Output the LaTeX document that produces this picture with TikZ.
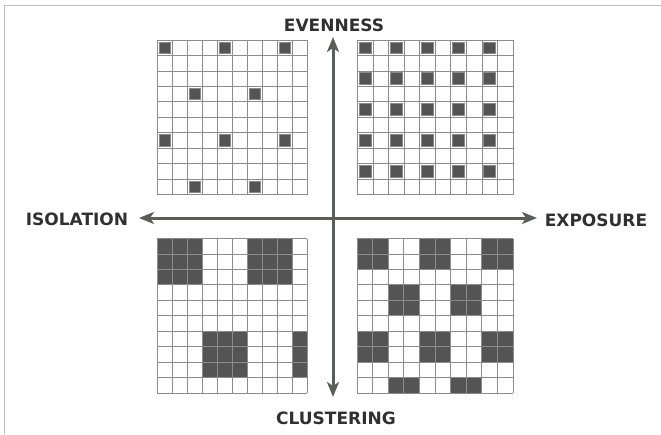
\documentclass[tikz,border=0pt]{standalone}
\usepackage{fontspec}
\setmainfont{DejaVu Sans}
\usetikzlibrary{arrows.meta}
\definecolor{axisgray}{HTML}{5A5E5A}
\definecolor{cellgray}{HTML}{8C8C8C}
\definecolor{darkfill}{HTML}{545454}
\definecolor{rimgray}{HTML}{8A8A8A}
\definecolor{labelgray}{HTML}{303030}
\definecolor{framegray}{HTML}{BBBBBB}
\tikzset{
  gridline/.style={draw=cellgray, line width=0.8pt},
  dotcell/.style={fill=darkfill, draw=rimgray, line width=1pt},
  blockcell/.style={fill=darkfill},
  axisline/.style={draw=axisgray, line width=3pt, {Stealth[length=15pt,width=12pt,inset=4pt]}-{Stealth[length=15pt,width=12pt,inset=4pt]}},
  axislabel/.style={text=labelgray, font=\bfseries\fontsize{17}{17}\selectfont, inner sep=0pt},
  framestyle/.style={draw=framegray, line width=0.8pt}
}
% grid: x0 y0 cw ch
\newcommand\mygrid[4]{%
  \foreach \i in {0,...,10}{%
    \draw[gridline] ({#1+\i*#3},{#2}) -- ({#1+\i*#3},{#2+10*#4});
    \draw[gridline] ({#1},{#2+\i*#4}) -- ({#1+10*#3},{#2+\i*#4});
  }%
}
% inset dot at row/col
\newcommand\mydot[6]{%
  \draw[dotcell] ({#1+#6*#3+2},{#2+#5*#4+2}) rectangle ({#1+(#6+1)*#3-2},{#2+(#5+1)*#4-2});
}
% block: x0 y0 cw ch r0 c0 r1 c1
\newcommand\myblock[8]{%
  \fill[blockcell] ({#1+#6*#3},{#2+#5*#4}) rectangle ({#1+(#8+1)*#3},{#2+(#7+1)*#4});
}
\begin{document}
\begin{tikzpicture}[x=1pt,y=-1pt]
\useasboundingbox (0,0) rectangle (661,434);
% frame
\draw[framestyle] (4.5,434) -- (4.5,5.5) -- (661,5.5);
% top-left grid
\foreach \r/\c in {0/0,0/4,0/8,3/2,3/6,6/0,6/4,6/8,9/2,9/6}{\mydot{157.5}{40}{15}{15.45}{\r}{\c}}
\mygrid{157.5}{40}{15}{15.45}
% top-right grid
\foreach \r in {0,2,4,6,8}{\foreach \c in {0,2,4,6,8}{\mydot{357.5}{40}{15.55}{15.45}{\r}{\c}}}
\mygrid{357.5}{40}{15.55}{15.45}
% bottom-left grid
\foreach \ra/\ca/\rb/\cb in {0/0/2/2,0/6/2/8,6/3/8/5,6/9/8/9}{\myblock{157}{238.5}{15}{15.45}{\ra}{\ca}{\rb}{\cb}}
\mygrid{157}{238.5}{15}{15.45}
% bottom-right grid
\foreach \ra/\ca/\rb/\cb in {0/0/1/1,0/4/1/5,0/8/1/9,3/2/4/3,3/6/4/7,6/0/7/1,6/4/7/5,6/8/7/9,9/2/9/3,9/6/9/7}{\myblock{357}{238.5}{15.6}{15.45}{\ra}{\ca}{\rb}{\cb}}
\mygrid{357}{238.5}{15.6}{15.45}
% axes
\coordinate (atop) at (333,37);
\coordinate (abot) at (333,397);
\coordinate (aleft) at (139,218);
\coordinate (aright) at (537,218);
\draw[axisline] (aleft) -- (aright);
\draw[axisline] (abot) -- (atop);
% labels
\node[axislabel] (even) at (334,25) {EVENNESS};
\node[axislabel] (clus) at (336,418) {CLUSTERING};
\node[axislabel] (isol) at (77,219) {ISOLATION};
\node[axislabel] (expo) at (596,220) {EXPOSURE};
\end{tikzpicture}
\end{document}
